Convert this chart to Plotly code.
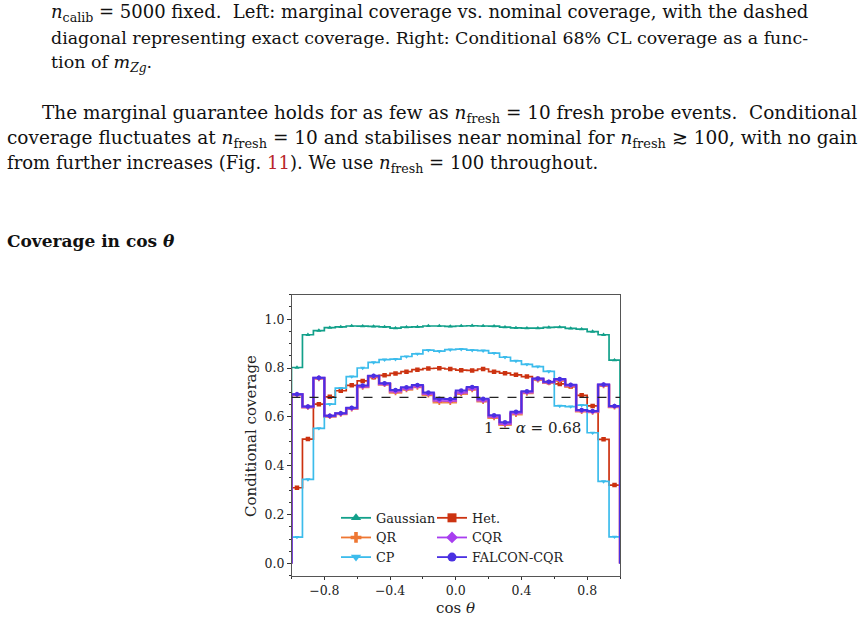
import plotly.graph_objects as go

# ---------------- data ----------------
n_bins = 30
bin_edges = [-1 + 2 * k / n_bins for k in range(n_bins + 1)]
bin_centers = [(bin_edges[k] + bin_edges[k + 1]) / 2 for k in range(n_bins)]

gaussian = [0.802, 0.936, 0.953, 0.965, 0.968, 0.972, 0.971, 0.970, 0.968, 0.963,
            0.967, 0.968, 0.972, 0.972, 0.970, 0.972, 0.973, 0.972, 0.971, 0.967,
            0.964, 0.963, 0.963, 0.966, 0.967, 0.962, 0.959, 0.949, 0.936, 0.832]
het = [0.310, 0.509, 0.652, 0.682, 0.707, 0.729, 0.747, 0.762, 0.770, 0.778,
       0.785, 0.793, 0.798, 0.799, 0.796, 0.791, 0.790, 0.796, 0.785, 0.779,
       0.772, 0.765, 0.755, 0.742, 0.735, 0.724, 0.688, 0.645, 0.508, 0.321]
qr = [0.690, 0.640, 0.757, 0.602, 0.612, 0.633, 0.722, 0.764, 0.733, 0.700,
      0.712, 0.722, 0.690, 0.660, 0.660, 0.695, 0.712, 0.664, 0.597, 0.568,
      0.611, 0.698, 0.752, 0.740, 0.748, 0.726, 0.623, 0.620, 0.728, 0.641]
cp = [0.108, 0.344, 0.553, 0.652, 0.718, 0.765, 0.800, 0.823, 0.834, 0.836,
      0.847, 0.858, 0.873, 0.869, 0.875, 0.877, 0.873, 0.871, 0.861, 0.844,
      0.829, 0.815, 0.806, 0.786, 0.645, 0.642, 0.648, 0.535, 0.336, 0.109]
cqr = [0.692, 0.641, 0.759, 0.604, 0.614, 0.635, 0.725, 0.766, 0.735, 0.705,
       0.716, 0.726, 0.695, 0.667, 0.666, 0.700, 0.716, 0.668, 0.602, 0.572,
       0.616, 0.701, 0.755, 0.742, 0.752, 0.729, 0.626, 0.622, 0.731, 0.643]
falcon = [0.693, 0.642, 0.760, 0.605, 0.615, 0.637, 0.728, 0.768, 0.738, 0.710,
          0.721, 0.730, 0.700, 0.674, 0.673, 0.708, 0.722, 0.674, 0.607, 0.578,
          0.621, 0.705, 0.757, 0.744, 0.755, 0.731, 0.628, 0.624, 0.733, 0.645]
nominal = 0.68

series = [
    # name, values, color, symbol, line width, legend column
    ("Gaussian", gaussian, "#12a08a", "triangle-up", 1.7, "legend"),
    ("Het.", het, "#cc3311", "square", 1.7, "legend2"),
    ("QR", qr, "#ee7733", "cross", 2.6, "legend"),
    ("CP", cp, "#3cbcec", "triangle-down", 1.7, "legend"),
    ("CQR", cqr, "#a83ef0", "diamond", 2.6, "legend2"),
    ("FALCON-CQR", falcon, "#4a30e2", "circle", 2.0, "legend2"),
]
legend_order = ["Gaussian", "QR", "CP", "Het.", "CQR", "FALCON-CQR"]

SERIF = "DejaVu Serif"

fig = go.Figure()

for name, vals, col, sym, lw, leg in series:
    # step outline (stairs with baseline 0 at the outer edges)
    xs = [bin_edges[0]] + bin_edges[:-1] + [bin_edges[-1]]
    ys = [0] + list(vals) + [0]
    fig.add_trace(go.Scatter(x=xs, y=ys, mode="lines", line=dict(color=col, width=lw, shape="hv"),
                             opacity=0.85 if name in ("QR", "CQR") else 1.0,
                             showlegend=False, hoverinfo="skip"))
    fig.add_trace(go.Scatter(x=bin_centers, y=vals, mode="markers",
                             marker=dict(color=col, symbol=sym, size=4.5, line=dict(width=0)),
                             showlegend=False, name=name))

for nm in legend_order:
    name, vals, col, sym, lw, leg = [s for s in series if s[0] == nm][0]
    fig.add_trace(go.Scatter(x=[None], y=[None], mode="lines+markers", name=name,
                             line=dict(color=col, width=1.8),
                             marker=dict(color=col, symbol=sym, size=9, line=dict(width=0)),
                             legend=leg, showlegend=True))

fig.add_shape(type="line", xref="x", yref="y", x0=-1, x1=1, y0=nominal, y1=nominal,
              line=dict(color="#222", width=1.2, dash="dash"), layer="above")

fig.add_annotation(x=0.47, y=0.554, xref="x", yref="y", text="1 − <i>α</i> = 0.68",
                   showarrow=False, xanchor="center", yanchor="middle",
                   font=dict(family=SERIF, size=15, color="#222"))

X0, X1 = 291.5 / 863, 620 / 863
Y0, Y1 = (621 - 575.7) / 621, (621 - 294.7) / 621

axis_common = dict(showline=True, mirror=True, linecolor="#555", linewidth=1,
                   ticks="outside", ticklen=3.5, tickwidth=1, tickcolor="#333",
                   showgrid=False, zeroline=False,
                   tickfont=dict(family=SERIF, size=12.5, color="#222"))
fig.update_layout(
    width=863, height=621,
    margin=dict(l=0, r=0, t=0, b=0),
    paper_bgcolor="white", plot_bgcolor="white",
    xaxis=dict(domain=[X0, X1], range=[-1, 1], tick0=-0.8, dtick=0.4, tickformat=".1f",
               minor=dict(tick0=0, dtick=0.2, ticks="outside", ticklen=2, tickcolor="#333"),
               **axis_common),
    yaxis=dict(domain=[Y0, Y1], range=[-0.05, 1.1], tick0=0, dtick=0.2, tickformat=".1f",
               minor=dict(tick0=0, dtick=0.05, ticks="outside", ticklen=2, tickcolor="#333"),
               **axis_common),
    legend=dict(x=336 / 863, y=(621 - 503) / 621, xanchor="left", yanchor="top",
                bgcolor="rgba(0,0,0,0)", font=dict(family=SERIF, size=12.8, color="#222"),
                itemwidth=30, tracegroupgap=0),
    legend2=dict(x=432 / 863, y=(621 - 503) / 621, xanchor="left", yanchor="top",
                 bgcolor="rgba(0,0,0,0)", font=dict(family=SERIF, size=12.8, color="#222"),
                 itemwidth=30, tracegroupgap=0),
)

# axis titles
fig.add_annotation(x=251 / 863, y=(621 - 436) / 621, xref="paper", yref="paper",
                   text="Conditional coverage", textangle=-90, showarrow=False,
                   xanchor="center", yanchor="middle",
                   font=dict(family=SERIF, size=15, color="#222"))
fig.add_annotation(x=456 / 863, y=(621 - 608) / 621, xref="paper", yref="paper",
                   text="cos <i>θ</i>", showarrow=False, xanchor="center", yanchor="middle",
                   font=dict(family=SERIF, size=15, color="#222"))

# surrounding page text
page_lines = [
    (49, 13, '<i>n</i><sub>calib</sub> = 5000 fixed.  Left: marginal coverage vs. nominal coverage, with the dashed', 18),
    (49, 38, 'diagonal representing exact coverage. Right: Conditional 68% CL coverage as a func-', 17.4),
    (49, 63, 'tion of <i>m</i><sub><i>Zg</i></sub>.', 17.5),
    (40, 114, 'The marginal guarantee holds for as few as <i>n</i><sub>fresh</sub> = 10 fresh probe events.  Conditional', 18.45),
    (5, 139, 'coverage fluctuates at <i>n</i><sub>fresh</sub> = 10 and stabilises near nominal for <i>n</i><sub>fresh</sub> ≳ 100, with no gain', 18.5),
    (5, 164, 'from further increases (Fig. <span style="color:#b8262b">11</span>). We use <i>n</i><sub>fresh</sub> = 100 throughout.', 18),
]
for px, py, txt, fs in page_lines:
    fig.add_annotation(x=px / 863, y=(621 - py) / 621, xref="paper", yref="paper",
                       text=txt, showarrow=False, xanchor="left", yanchor="middle",
                       font=dict(family=SERIF, size=fs, color="#111"))
fig.add_annotation(x=5 / 863, y=(621 - 241) / 621, xref="paper", yref="paper",
                   text='<b>Coverage in cos <i>θ</i></b>', showarrow=False,
                   xanchor="left", yanchor="middle",
                   font=dict(family=SERIF, size=17, color="#111"))

fig.write_html("out.html")
